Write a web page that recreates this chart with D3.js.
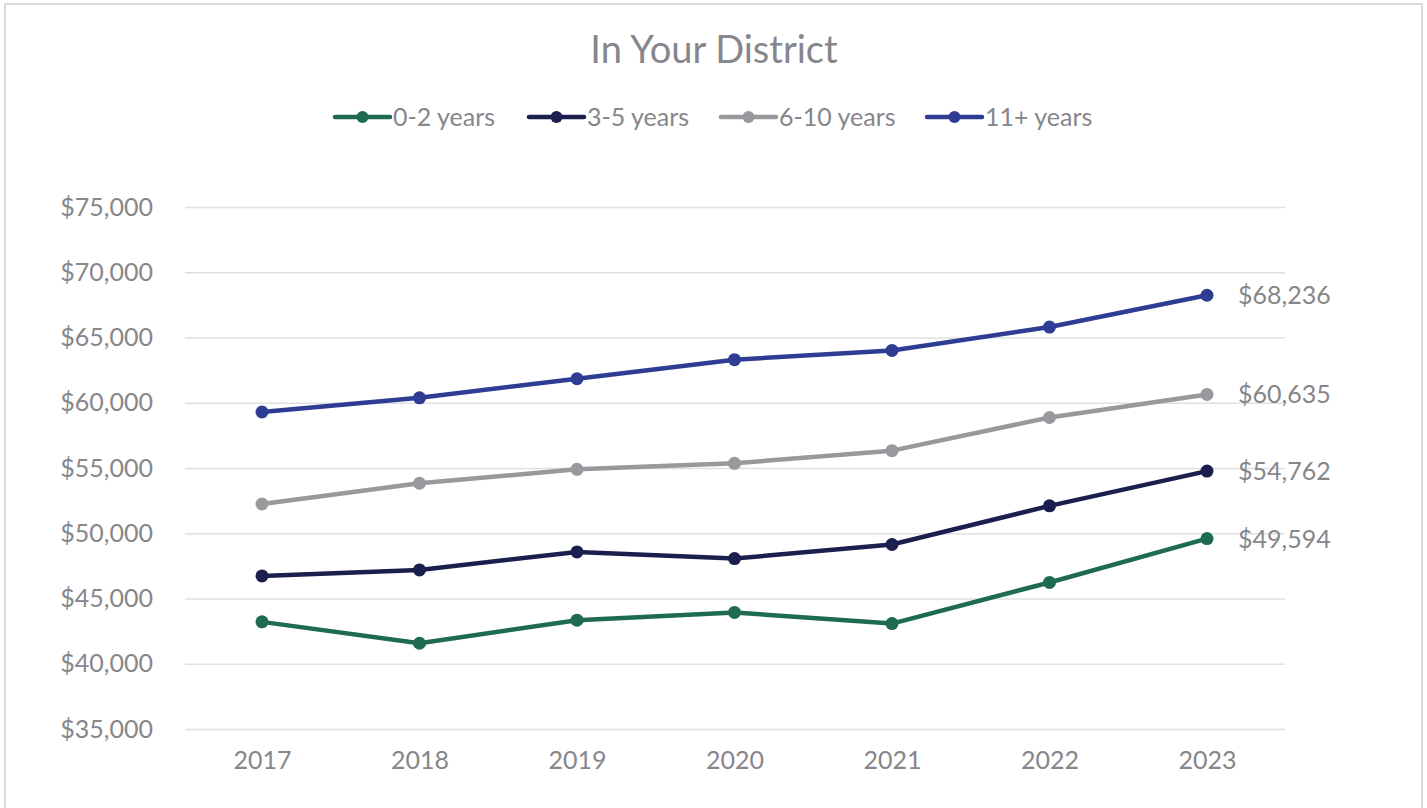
<!DOCTYPE html>
<html>
<head>
<meta charset="utf-8">
<script src="https://cdn.jsdelivr.net/npm/d3@7"></script>
<style>
  html, body { margin: 0; padding: 0; background: #fff; }
  svg text { font-family: "Lato", "Open Sans", sans-serif; fill: #86868b; }
</style>
</head>
<body>
<svg id="chart" width="1427" height="808"></svg>
<script>
const years = ["2017", "2018", "2019", "2020", "2021", "2022", "2023"];
const seriesNames = ["0-2 years", "3-5 years", "6-10 years", "11+ years"];
const seriesColors = ["#1f6b50", "#1a1f4d", "#98989d", "#2e3d93"];

const yrs0to2 = [43210, 41570, 43340, 43930, 43080, 46230, 49594];
const yrs3to5 = [46730, 47190, 48570, 48060, 49140, 52100, 54762];
const yrs6to10 = [52240, 53830, 54900, 55360, 56330, 58870, 60635];
const yrs11plus = [59290, 60380, 61840, 63300, 64010, 65800, 68236];

const yTicks = [35000, 40000, 45000, 50000, 55000, 60000, 65000, 70000, 75000];

const allSeries = [yrs0to2, yrs3to5, yrs6to10, yrs11plus];

/**
 * SETUP
 */
const svg = d3.select("#chart");

// frame
svg.append("path")
  .attr("d", "M5,812 L5,4 L1422,4 L1422,812")
  .attr("fill", "none")
  .attr("stroke", "#d9d9d9")
  .attr("stroke-width", 2);

const x = d3.scalePoint()
  .domain(years)
  .range([262, 1207]);

const y = d3.scaleLinear()
  .domain([35000, 75000])
  .range([729, 207]);

const fmt = d3.format("$,");

/**
 * TITLE
 */
svg.append("text")
  .attr("x", 714)
  .attr("y", 63)
  .attr("text-anchor", "middle")
  .style("font-size", "38px")
  .text("In Your District");

/**
 * LEGEND
 */
const legendX = [335, 529, 721, 927];
const legend = svg.append("g")
  .selectAll("g")
  .data(seriesNames)
  .join("g")
  .attr("transform", (d, i) => `translate(${legendX[i]},117)`);

legend.append("line")
  .attr("x1", 0).attr("x2", 55)
  .attr("stroke", (d, i) => seriesColors[i])
  .attr("stroke-width", 4.5)
  .attr("stroke-linecap", "round");

legend.append("circle")
  .attr("cx", 27.5)
  .attr("r", 6)
  .attr("fill", (d, i) => seriesColors[i]);

legend.append("text")
  .attr("x", 58)
  .attr("dy", "0.36em")
  .style("font-size", "25px")
  .text(d => d);

/**
 * GRID + AXES
 */
const yAxis = d3.axisLeft(y)
  .tickValues(yTicks)
  .tickSize(-(1285 - 185))
  .tickPadding(32)
  .tickFormat(fmt);

svg.append("g")
  .attr("transform", "translate(185,0)")
  .call(yAxis)
  .call(g => g.select(".domain").remove())
  .call(g => g.selectAll(".tick line").attr("stroke", "#e0e0e0").attr("stroke-width", 1.5))
  .call(g => g.selectAll(".tick text").style("font-size", "25px").attr("fill", "#86868b"));

const xAxis = d3.axisBottom(x)
  .tickSize(0)
  .tickPadding(22);

svg.append("g")
  .attr("transform", "translate(0,729)")
  .call(xAxis)
  .call(g => g.select(".domain").remove())
  .call(g => g.selectAll(".tick text").style("font-size", "25px").attr("fill", "#86868b"));

/**
 * LINES
 */
const line = d3.line()
  .x((d, i) => x(years[i]))
  .y(d => y(d));

const groups = svg.append("g")
  .selectAll("g")
  .data(allSeries)
  .join("g");

groups.append("path")
  .attr("d", d => line(d))
  .attr("fill", "none")
  .attr("stroke", (d, i) => seriesColors[i])
  .attr("stroke-width", 4.5)
  .attr("stroke-linejoin", "round");

groups.each(function (d, i) {
  d3.select(this).selectAll("circle")
    .data(d)
    .join("circle")
    .attr("cx", (v, j) => x(years[j]))
    .attr("cy", v => y(v))
    .attr("r", 6.5)
    .attr("fill", seriesColors[i]);
});

// end labels
groups.append("text")
  .attr("x", d => x(years[years.length - 1]) + 31)
  .attr("y", d => y(d[d.length - 1]))
  .attr("dy", "0.36em")
  .style("font-size", "25px")
  .text(d => fmt(d[d.length - 1]));
</script>
</body>
</html>
